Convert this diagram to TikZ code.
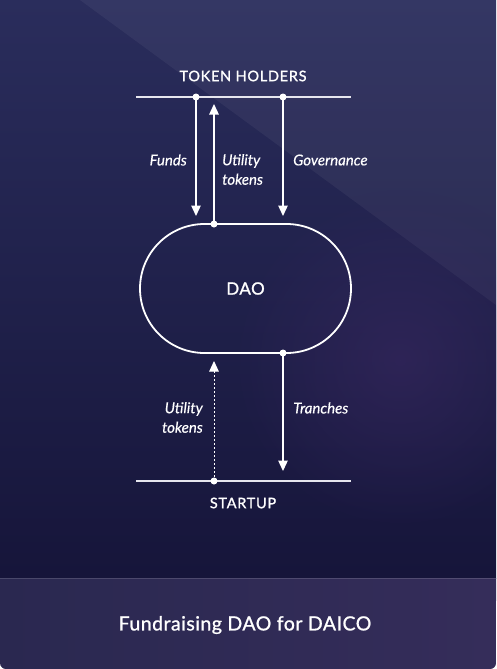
\documentclass[tikz,border=0pt]{standalone}
\usepackage{fontspec}
\setmainfont{Lato}
\usetikzlibrary{arrows.meta,shapes.misc,fadings}
\definecolor{bgtop}{HTML}{2A2D5C}
\definecolor{bgbot}{HTML}{16153A}
\definecolor{bandL}{HTML}{2A2850}
\definecolor{bandR}{HTML}{352D5A}
\definecolor{linecol}{HTML}{E6E6EE}
\definecolor{glow}{HTML}{3E2A66}
\tikzfading[name=softglow,inner color=transparent!0,outer color=transparent!100]
\tikzset{
  x=1pt,y=-1pt,
  wire/.style={draw=linecol,line width=1.8pt},
  flow/.style={draw=white,line width=1.3pt,-{Triangle[length=10.5pt,width=9.5pt]}},
  dotflow/.style={flow,line width=1pt,dash pattern=on 1.8pt off 2.2pt},
  pin/.style={circle,fill=white,inner sep=0pt,minimum size=7pt},
  captext/.style={text=white,font=\fontsize{14.5}{17}\selectfont\addfontfeatures{LetterSpace=5,FakeBold=1.2}},
  lab/.style={text=white,font=\itshape\fontsize{15}{19.5}\selectfont\addfontfeatures{FakeBold=0.4},align=left,inner sep=0pt},
}
\begin{document}
\begin{tikzpicture}
\useasboundingbox (0,0) rectangle (496,669);
% background
\shade[top color=bgtop,bottom color=bgbot] (0,0) rectangle (496,578);
\fill[white,opacity=0.05] (80,0) -- (496,0) -- (496,305) -- cycle;
\fill[glow,path fading=softglow,opacity=0.5] (400,360) circle (170);
\shade[left color=bandL,right color=bandR,rounded corners=6pt] (0,578) -- (0,669) -- (496,669) -- (496,578) -- cycle;
\shade[left color=bandL,right color=bandR] (0,578) rectangle (496,600);
\draw[white,opacity=0.15,line width=1pt] (0,578.5) -- (496,578.5);
% top
\node[captext] (th) at (243,76) {TOKEN HOLDERS};
\coordinate (thl) at (136,97);
\coordinate (thr) at (351,97);
\draw[wire] (thl) -- (thr);
% DAO
\node[draw=white,line width=1.8pt,rounded rectangle,minimum width=211pt,minimum height=129pt,inner sep=0pt,text=white,font=\fontsize{17}{20}\selectfont\addfontfeatures{LetterSpace=3,FakeBold=1.2}] (dao) at (245.5,288.5) {DAO};
% bottom
\coordinate (stl) at (136,481);
\coordinate (str) at (351,481);
\draw[wire] (stl) -- (str);
\node[captext] (st) at (243,503) {STARTUP};
% pins
\node[pin] (pf) at (196,97) {};
\node[pin] (pg) at (283,97) {};
\node[pin] (pu) at (214,224) {};
\node[pin] (pt) at (283,353) {};
\node[pin] (ps) at (214,481) {};
\coordinate (endf) at (196,216);
\coordinate (endg) at (283,216);
\coordinate (endu) at (214,104);
\coordinate (endt) at (283,471);
\coordinate (ends) at (214,361);
% arrows
\draw[flow] (pf.center) -- (endf);
\draw[flow] (pg.center) -- (endg);
\draw[flow] (pu.center) -- (endu);
\draw[flow] (pt.center) -- (endt);
\draw[dotflow] (ps.center) -- (ends);
% labels
\node[lab,anchor=east] (lf) at (187,160) {Funds};
\node[lab,anchor=west] (lu) at (222,169.5) {Utility\\tokens};
\node[lab,anchor=west] (lg) at (293,160) {Governance};
\node[lab,anchor=east,align=right] (lu2) at (203,417.5) {Utility\\tokens};
\node[lab,anchor=west] (lt) at (293,408) {Tranches};
% title
\node[text=white,font=\fontsize{19.5}{23}\selectfont\addfontfeatures{LetterSpace=2.5,FakeBold=1}] (title) at (245,625) {Fundraising DAO for DAICO};
\end{tikzpicture}
\end{document}
